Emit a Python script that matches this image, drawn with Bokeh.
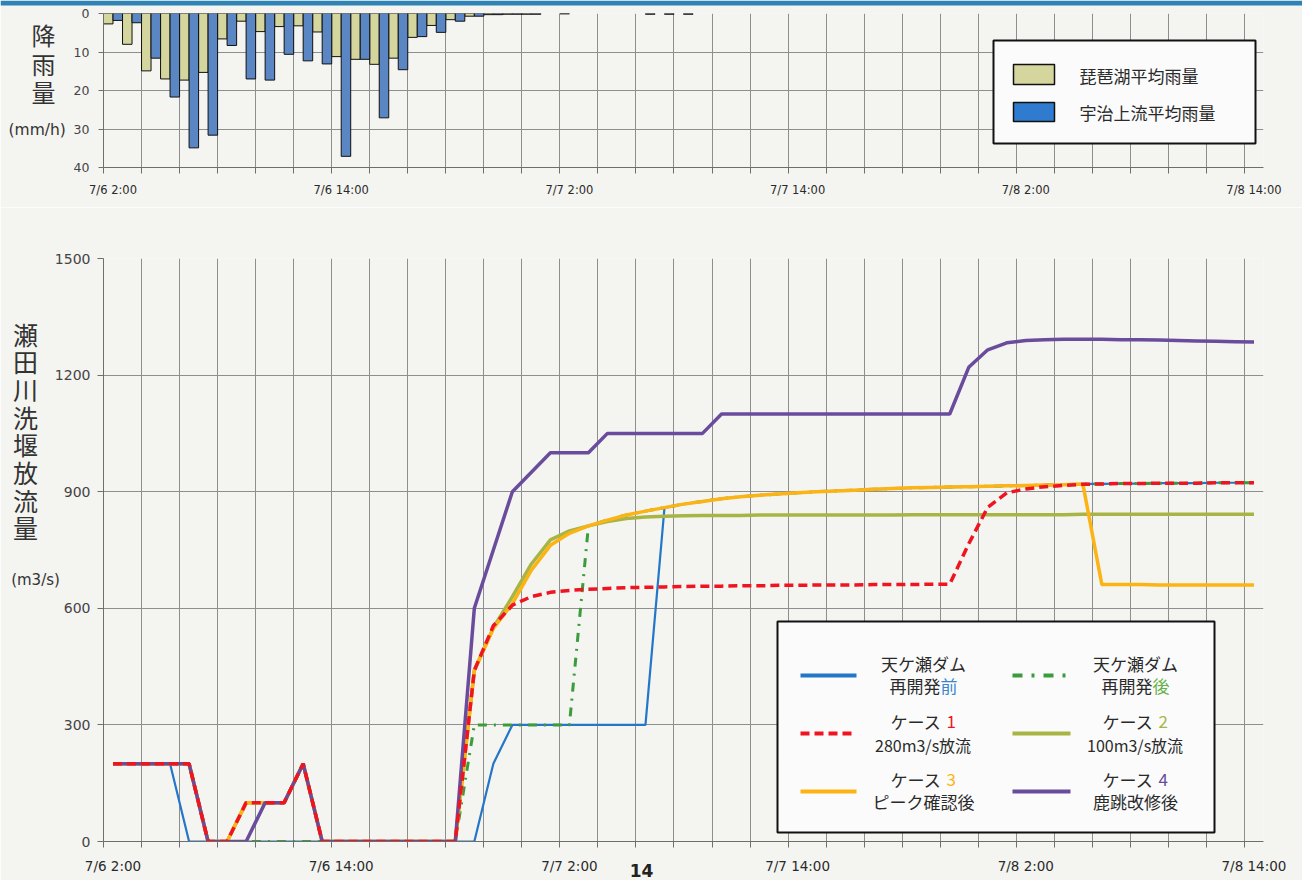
from bokeh.plotting import figure
from bokeh.models import FixedTicker, Range1d, Label, BoxAnnotation
from bokeh.layouts import column
from bokeh.embed import file_html
from bokeh.resources import INLINE

# ---------------- data (hourly, from 7/6 2:00 to 7/8 14:00) ----------------
N_HOURS = 61
tick_labels = ["7/6 2:00", "7/6 14:00", "7/7 2:00", "7/7 14:00", "7/8 2:00", "7/8 14:00"]

# rainfall (mm/h)
rain_biwa = [2.7, 8.0, 14.9, 17.0, 17.3, 15.3, 6.6, 2.0, 4.7, 3.4,
             3.2, 4.8, 11.2, 11.9, 13.2, 11.6, 6.2, 3.1, 1.6, 0.7,
             0.3, 0.2, 0.2, 0.0, 0.1, 0.0, 0.0, 0.0, 0.0, 0.0,
             0.0, 0.0, 0.0, 0.0, 0.0, 0.0, 0.0, 0.0, 0.0, 0.0,
             0.0, 0.0, 0.0, 0.0, 0.0, 0.0, 0.0, 0.0, 0.0, 0.0,
             0.0, 0.0, 0.0, 0.0, 0.0, 0.0, 0.0, 0.0, 0.0, 0.0, 0.0]
rain_uji = [1.8, 2.4, 11.6, 21.7, 34.9, 31.6, 8.3, 17.0, 17.3, 10.6,
            12.3, 13.1, 37.1, 11.9, 27.1, 14.6, 6.0, 4.9, 2.0, 0.7,
            0.3, 0.2, 0.2, 0.0, 0.0, 0.0, 0.0, 0.0, 0.2, 0.2,
            0.2, 0.0, 0.0, 0.0, 0.0, 0.0, 0.0, 0.0, 0.0, 0.0,
            0.0, 0.0, 0.0, 0.0, 0.0, 0.0, 0.0, 0.0, 0.0, 0.0,
            0.0, 0.0, 0.0, 0.0, 0.0, 0.0, 0.0, 0.0, 0.0, 0.0, 0.0]

# discharge (m3/s)
q_before = [200, 200, 200, 200, 0, 0, 0, 0, 0, 0,
            0, 0, 0, 0, 0, 0, 0, 0, 0, 0,
            200, 300, 300, 300, 300, 300, 300, 300, 300, 859,
            868, 875, 882, 887, 891, 894, 897, 900, 902, 904,
            906, 908, 910, 911, 912, 913, 914, 915, 916, 917,
            918, 920, 920, 921, 921, 922, 922, 922, 923, 923, 923]
q_after = [200, 200, 200, 200, 200, 0, 0, 0, 0, 0,
           0, 0, 0, 0, 0, 0, 0, 0, 0, 300,
           300, 300, 300, 300, 300, 812, 827, 840, 850, 859,
           868, 875, 882, 887, 891, 894, 897, 900, 902, 904,
           906, 908, 910, 911, 912, 913, 914, 915, 916, 917,
           918, 920, 920, 921, 921, 922, 922, 922, 923, 923, 923]
q_case1 = [200, 200, 200, 200, 200, 0, 0, 100, 100, 100,
           200, 0, 0, 0, 0, 0, 0, 0, 0, 440,
           555, 608, 630, 641, 646, 649, 651, 653, 654, 655,
           656, 657, 657, 658, 658, 659, 659, 660, 660, 660,
           661, 661, 661, 662, 662, 766, 860, 897, 907, 913,
           916, 919, 920, 921, 921, 922, 922, 922, 923, 923, 923]
q_case2 = [200, 200, 200, 200, 200, 0, 0, 100, 100, 100,
           200, 0, 0, 0, 0, 0, 0, 0, 0, 440,
           550, 630, 714, 776, 799, 812, 823, 831, 835, 837,
           838, 839, 839, 839, 840, 840, 840, 840, 840, 840,
           840, 840, 841, 841, 841, 841, 841, 841, 841, 841,
           841, 842, 842, 842, 842, 842, 842, 842, 842, 842, 842]
q_case3 = [200, 200, 200, 200, 200, 0, 0, 100, 100, 100,
           200, 0, 0, 0, 0, 0, 0, 0, 0, 440,
           548, 612, 698, 762, 793, 812, 827, 840, 850, 859,
           868, 875, 882, 887, 891, 894, 897, 900, 902, 904,
           906, 908, 910, 911, 912, 913, 914, 915, 916, 917,
           918, 920, 661, 661, 661, 660, 660, 660, 660, 660, 660]
q_case4 = [200, 200, 200, 200, 200, 0, 0, 0, 100, 100,
           200, 0, 0, 0, 0, 0, 0, 0, 0, 600,
           750, 900, 950, 1000, 1000, 1000, 1050, 1050, 1050, 1050,
           1050, 1050, 1100, 1100, 1100, 1100, 1100, 1100, 1100, 1100,
           1100, 1100, 1100, 1100, 1100, 1220, 1265, 1283, 1289, 1291,
           1292, 1292, 1292, 1291, 1291, 1290, 1289, 1288, 1287, 1286, 1285]

rain_ticks = [0, 10, 20, 30, 40]
q_ticks = [0, 300, 600, 900, 1200, 1500]

# ---------------- geometry (page pixels; the layout starts at the page corner) ----------------
W, H = 1302, 880
TOP_H = 207
MAIN_H = H - TOP_H
FRAME_L, FRAME_W = 103, 1160
FRAME_R = W - FRAME_L - FRAME_W
TOP_FT, TOP_FH = 13, 154
MAIN_FT, MAIN_FH = 51, 583
PX_PER_H = FRAME_W / N_HOURS


def hx(px):
    return (px - FRAME_L) / PX_PER_H


def ry(py):
    return (py - TOP_FT) / TOP_FH * rain_ticks[-1]


def qy(py):
    return (TOP_H + MAIN_FT + MAIN_FH - py) / MAIN_FH * q_ticks[-1]


BG = "#f4f4f1"
GRID = "#8e8e8e"
AXIS = "#6e6e6e"
JP = "Noto Sans CJK JP"
NUM = "DejaVu Sans"
TXT = "#2a2a2a"

C_BEFORE = "#2476c8"
C_AFTER = "#3c9c3c"
C_CASE1 = "#f01420"
C_CASE2 = "#a8b544"
C_CASE3 = "#fbb414"
C_CASE4 = "#6a4c9c"
C_BIWA = "#d5d69e"
C_UJI = "#5b86c4"


def style(p, yticks, xlabel_size, ylabel_size, ytick_out, ystandoff, xstandoff):
    p.background_fill_color = BG
    p.border_fill_color = BG
    p.outline_line_color = None
    p.min_border_left = FRAME_L
    p.min_border_right = FRAME_R
    label_pos = [0.5 + 12 * i for i in range(len(tick_labels))]
    xa = p.xaxis[0]
    xa.ticker = FixedTicker(ticks=label_pos, minor_ticks=list(range(0, N_HOURS, 2)))
    xa.major_label_overrides = {v: t for v, t in zip(label_pos, tick_labels)}
    xa.major_tick_line_color = None
    xa.major_tick_out = 6
    xa.major_tick_in = 0
    xa.minor_tick_line_color = AXIS
    xa.minor_tick_out = 6
    xa.minor_tick_in = 0
    xa.axis_line_color = AXIS
    xa.major_label_text_font = NUM
    xa.major_label_text_font_size = f"{xlabel_size}px"
    xa.major_label_text_color = TXT
    xa.major_label_standoff = xstandoff
    ya = p.yaxis[0]
    ya.ticker = FixedTicker(ticks=yticks)
    ya.minor_tick_line_color = None
    ya.major_tick_line_color = AXIS
    ya.major_tick_out = ytick_out
    ya.major_tick_in = 0
    ya.axis_line_color = AXIS
    ya.major_label_text_font = NUM
    ya.major_label_text_font_size = f"{ylabel_size}px"
    ya.major_label_text_color = "#444444"
    ya.major_label_standoff = ystandoff
    p.xgrid.ticker = FixedTicker(ticks=list(range(0, N_HOURS, 2)))
    p.xgrid.grid_line_color = GRID
    p.ygrid.grid_line_color = GRID


def add_label(p, x, y, text, size, color=TXT, font=JP, align="center", style_="normal"):
    p.add_layout(Label(x=x, y=y, text=text, text_font=font, text_font_size=f"{size}px",
                       text_color=color, text_align=align, text_baseline="middle",
                       text_font_style=style_))


# ---------------- rainfall chart ----------------
top = figure(width=W, height=TOP_H, output_backend="svg", toolbar_location=None,
             x_range=Range1d(0, N_HOURS), y_range=Range1d(rain_ticks[-1], rain_ticks[0]),
             min_border_top=TOP_FT, min_border_bottom=TOP_H - TOP_FT - TOP_FH)
style(top, rain_ticks, 11.5, 12.5, 5, 9, 9)

bx = [k + 0.25 for k, v in enumerate(rain_biwa) if v > 0]
bv = [v for v in rain_biwa if v > 0]
ux = [k + 0.75 for k, v in enumerate(rain_uji) if v > 0]
uv = [v for v in rain_uji if v > 0]
top.vbar(x=bx, width=0.5, bottom=0, top=bv, fill_color=C_BIWA, line_color="#111111", line_width=1)
top.vbar(x=ux, width=0.5, bottom=0, top=uv, fill_color=C_UJI, line_color="#111111", line_width=1)

# rainfall legend
top.add_layout(BoxAnnotation(left=hx(993), right=hx(1255), top=ry(40), bottom=ry(143),
                             fill_color="#fbfbfb", fill_alpha=1.0, line_color="#111111",
                             line_alpha=1.0, line_width=2, level="underlay"))
top.quad(left=[hx(1013)], right=[hx(1054)], top=[ry(64)], bottom=[ry(84)],
         fill_color=C_BIWA, line_color="#111111", line_width=1.5)
top.quad(left=[hx(1013)], right=[hx(1054)], top=[ry(102)], bottom=[ry(121)],
         fill_color="#2e7bd0", line_color="#111111", line_width=1.5)
add_label(top, hx(1079), ry(75), "琵琶湖平均雨量", 17, align="left")
add_label(top, hx(1079), ry(112), "宇治上流平均雨量", 17, align="left")

# ---------------- discharge chart ----------------
main = figure(width=W, height=MAIN_H, output_backend="svg", toolbar_location=None,
              x_range=Range1d(0, N_HOURS), y_range=Range1d(q_ticks[0], q_ticks[-1]),
              min_border_top=MAIN_FT, min_border_bottom=MAIN_H - MAIN_FT - MAIN_FH)
style(main, q_ticks, 13.5, 14, 6, 7, 10)

xs = [k + 0.5 for k in range(N_HOURS)]
main.line(xs, q_before, line_color=C_BEFORE, line_width=2.2)
main.line(xs, q_after, line_color=C_AFTER, line_width=3, line_dash="9 7 2 7")
main.line(xs, q_case2, line_color=C_CASE2, line_width=3.5)
main.line(xs, q_case3, line_color=C_CASE3, line_width=3.5)
main.line(xs, q_case4, line_color=C_CASE4, line_width=3.5)
main.line(xs, q_case1, line_color=C_CASE1, line_width=3.5, line_dash="9 5")

# discharge legend
main.add_layout(BoxAnnotation(left=hx(777), right=hx(1214), top=qy(621), bottom=qy(832),
                              fill_color="#fbfbfb", fill_alpha=1.0, line_color="#111111",
                              line_alpha=1.0, line_width=2, level="underlay"))

legend_rows = [
    (800, 856, 923, 675, 663, 685, C_BEFORE, "solid", ("天ケ瀬ダム", ""), ("再開発", "前"), 17),
    (1012, 1070, 1135, 675, 663, 685, C_AFTER, "10 9 3 9", ("天ケ瀬ダム", ""), ("再開発", "後"), 17),
    (800, 856, 923, 733, 721, 744, C_CASE1, "9 5", ("ケース ", "1"), ("280m3/s放流", ""), 16),
    (1012, 1070, 1135, 733, 721, 744, C_CASE2, "solid", ("ケース ", "2"), ("100m3/s放流", ""), 16),
    (800, 856, 923, 791, 779, 801, C_CASE3, "solid", ("ケース ", "3"), ("ピーク確認後", ""), 17),
    (1012, 1070, 1135, 791, 779, 801, C_CASE4, "solid", ("ケース ", "4"), ("鹿跳改修後", ""), 17),
]
color_of = {"前": "#3a84d0", "後": "#66b04a", "1": C_CASE1, "2": C_CASE2, "3": C_CASE3, "4": C_CASE4}


def text_width(s, size):
    w = 0.0
    for ch in s:
        if ord(ch) > 0x2E80:
            w += size
        elif ch == " ":
            w += size * 0.3
        else:
            w += size * 0.58
    return w


def two_part(p, cx, py, part1, part2, size, color2):
    w1 = text_width(part1, size)
    w2 = text_width(part2, size)
    start = cx - (w1 + w2) / 2
    if part1:
        add_label(p, hx(start), qy(py), part1, size, align="left")
    if part2:
        add_label(p, hx(start + w1), qy(py), part2, size, color=color2, align="left")


for (x0, x1, cx, sy, y1, y2, col, dash, l1, l2, s2) in legend_rows:
    main.line([hx(x0), hx(x1)], [qy(sy), qy(sy)], line_color=col, line_width=4, line_dash=dash)
    two_part(main, cx, y1, l1[0], l1[1], 17, color_of.get(l1[1], TXT))
    two_part(main, cx, y2, l2[0], l2[1], s2, color_of.get(l2[1], TXT))

# ---------------- transparent overlay for the texts outside the plot frames ----------------
over = figure(width=W, height=H, output_backend="svg", toolbar_location=None, title=None,
              x_range=Range1d(0, W), y_range=Range1d(H, 0),
              x_axis_type=None, y_axis_type=None, min_border=0,
              margin=(-H, 0, 0, 0))
if hasattr(over, "frame_align"):
    over.frame_align = False
over.grid.visible = False
over.background_fill_alpha = 0
over.border_fill_alpha = 0
over.outline_line_color = None

# page header band at the very top
over.add_layout(BoxAnnotation(left=0, right=W, top=0, bottom=5, fill_color="#2f82b4",
                              fill_alpha=1.0, line_color=None))

for i, ch in enumerate("降雨量"):
    add_label(over, 43, 34 + 28.5 * i, ch, 24, color="#333333")
add_label(over, 8, 129, "(mm/h)", 15.5, color="#333333", font=NUM, align="left")
for i, ch in enumerate("瀬田川洗堰放流量"):
    add_label(over, 25, 333 + 27.7 * i, ch, 25, color="#333333")
add_label(over, 35, 579, "(m3/s)", 15, color="#333333", font=NUM)
add_label(over, 641, 870, "14", 17, color="#222222", font=NUM, style_="bold")

layout = column(top, main, over)
open("out.html", "w").write(file_html(layout, INLINE))
